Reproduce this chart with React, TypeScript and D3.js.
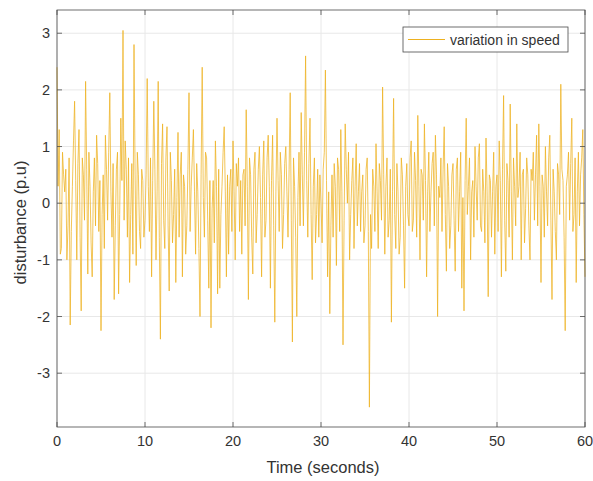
import React from "react";
import * as d3 from "d3";

const sampleStep = 0.125;
const disturbance: number[] = [
  2.4, 0.3, 1.3, -0.9, -0.8, 0.9, 0.5, 0.2, 0.6, -1.0, -0.4, 0.8, -2.15, -0.5, 0.3, 1.1, 1.8, 0.4, -1.0, 0.7,
  1.3, -0.6, -1.9, 0.8, 0.5, -0.3, 2.15, 0.6, -1.25, 0.9, 0.3, -0.7, -1.3, 0.2, 0.8, -0.4, 1.2, 0.7, -0.5, 0.4,
  -2.25, -0.2, 0.5, -0.8, 1.2, 0.6, -0.3, 0.9, 1.95, 0.2, -0.6, 0.7, -1.7, -0.4, 0.6, 0.9, -1.6, -0.2, 1.5, 0.4,
  3.05, -0.3, 1.1, 0.6, -0.6, 0.8, -1.4, -0.2, 0.7, -0.9, 2.8, 0.5, -1.1, 0.9, 0.5, -0.5, -0.8, 0.6, 0.4, -0.6,
  -0.3, 0.5, 2.2, 0.3, -0.5, 0.8, -1.3, 0.4, 1.8, 0.6, -1.0, 0.2, 2.15, -0.6, -2.4, 0.7, 1.4, -0.3, -0.8, 0.8,
  1.35, -0.4, -1.55, 0.9, 0.4, -0.7, -0.2, 0.6, -1.4, 0.1, 1.25, -0.6, 0.5, 0.9, -1.3, 0.5, 0.3, -0.9, -0.4, 0.6,
  1.95, -0.5, 0.3, 0.8, 1.3, 0.2, -0.9, 0.7, 0.2, -0.8, -2.0, 0.5, 2.4, 0.1, -0.6, 0.9, 0.8, -0.3, -1.5, 0.4,
  -2.2, -0.1, 0.4, -0.7, 1.1, 0.3, -1.6, 0.6, -1.5, -0.2, 0.3, 0.9, 1.35, 0.2, -1.3, 0.5, -0.9, 0.3, 0.6, -0.5,
  1.1, 0.2, -1.0, 0.7, 0.3, 0.8, -0.5, 0.4, -0.9, 0.5, 0.6, -0.4, 1.65, 0.3, -1.7, 0.8, 0.5, -0.6, -1.25, 0.6,
  0.9, -0.7, -0.2, 0.6, 1.0, 0.1, -1.3, 0.5, 1.1, -0.6, -0.3, 0.8, 1.2, 0.3, -1.5, 0.4, 1.2, -0.4, -2.1, 0.2,
  1.5, 0.4, -0.5, 0.9, 0.5, -0.8, -0.2, 0.7, 1.0, 0.2, -0.6, 0.6, 1.95, -0.3, -2.45, 0.8, 0.3, -0.6, -2.0, 0.1,
  0.9, -0.4, 1.6, 0.5, -0.4, 0.9, 2.6, 0.4, -0.6, 0.7, 1.5, -0.2, -1.35, 0.3, 0.8, -0.7, -0.2, 0.6, -0.6, 0.5,
  0.0, -0.7, 0.6, 0.9, 2.35, 0.4, -1.3, 0.2, -1.95, -0.4, 0.5, -0.6, 0.7, 0.3, -1.1, 0.8, 0.6, -0.5, 1.3, 0.2,
  -2.5, -0.3, 1.4, 0.6, 0.0, 0.9, -1.0, -0.2, 0.4, 0.8, -0.8, 0.3, 1.05, -0.4, 0.2, 0.7, -0.5, 0.2, 0.5, -0.7,
  -0.4, 0.6, 0.8, -0.5, -3.6, -0.2, -0.8, 0.6, 0.3, -0.5, 1.05, 0.2, -0.8, 0.7, 0.4, -0.3, 2.05, 0.5, -0.9, 0.3,
  0.8, -0.6, -0.3, 0.6, -2.1, 0.2, 1.85, -0.2, -0.8, 0.7, 0.2, -0.9, -0.6, 0.8, 0.5, -0.4, -1.5, 0.3, 0.7, -0.2,
  -0.4, 0.8, 1.1, -0.5, -0.3, 0.9, 0.4, -0.6, 1.55, 0.3, -1.0, 0.6, 0.5, -0.3, 1.4, 0.4, -1.3, 0.2, 0.9, -0.5,
  0.2, 0.7, 0.9, -0.4, 1.2, 0.5, -2.0, 0.3, 0.1, 0.8, -0.5, 0.6, 1.35, -0.2, -1.2, 0.7, 0.3, -0.8, -0.4, 0.5,
  0.7, -0.3, -1.2, 0.6, 0.8, -0.5, 0.2, 0.9, -1.5, 0.1, -1.9, 0.4, 1.5, -0.2, 0.3, 0.8, -1.0, 0.2, 0.4, -0.6,
  1.0, 0.3, -0.3, 0.8, 1.05, -0.4, -0.5, 0.6, 0.2, -0.7, 1.15, 0.2, -1.65, 0.5, 0.4, -0.6, 0.2, 0.9, -0.9, 0.3,
  0.5, -0.5, 1.1, 0.4, -1.3, 0.6, 1.9, -0.3, -1.2, 0.7, 0.4, -0.6, 1.75, 0.2, -1.0, 0.8, 0.3, -0.4, 1.4, 0.1,
  0.3, 0.9, -1.0, 0.5, 0.6, -0.7, -0.1, 0.8, 0.5, -0.4, -1.0, 0.6, 0.4, 0.9, -0.3, 0.5, 1.2, -0.4, 1.4, 0.3,
  -1.4, 0.5, 0.3, -0.6, 1.0, 0.2, -0.4, 0.8, 1.2, -0.3, -1.7, 0.6, 0.2, -0.5, -1.0, 0.7, 0.5, -0.2, 2.1, 0.6,
  0.4, -0.6, -2.25, 0.3, 0.5, 0.9, -0.3, 0.7, 1.5, -0.5, -0.2, 0.8, -1.4, 0.2, 0.9, -0.4, 0.5, 0.8, 1.3, -0.2,
  -1.3,
];
const xTicks = [0, 10, 20, 30, 40, 50, 60];
const yTicks = [-3, -2, -1, 0, 1, 2, 3];
const seriesName = "variation in speed";
const xLabel = "Time (seconds)";
const yLabel = "disturbance (p.u)";

const W = 593;
const H = 481;
const left = 57;
const right = 585;
const top = 10;
const bottom = 427;

export default function App() {
  const x = d3.scaleLinear().domain([0, 60]).range([left, right]);
  const y = d3.scaleLinear().domain([-3.95, 3.41]).range([bottom, top]);
  const pts: [number, number][] = disturbance.map((v, i) => [i * sampleStep, v]);
  const line = d3
    .line<[number, number]>()
    .x((d) => x(d[0]))
    .y((d) => y(d[1]));
  const axisColor = "#4a4a4a";
  const font = "'Liberation Sans', Arial, sans-serif";
  return (
    <svg
      width={W}
      height={H}
      style={{ position: "absolute", left: 0, top: 0, background: "#fff" }}
      fontFamily={font}
    >
      <rect x={0} y={0} width={W} height={H} fill="#fff" />
      {xTicks.map((t) => (
        <line key={"gx" + t} x1={x(t)} x2={x(t)} y1={top} y2={bottom} stroke="#e8e8e8" strokeWidth={1} />
      ))}
      {yTicks.map((t) => (
        <line key={"gy" + t} x1={left} x2={right} y1={y(t)} y2={y(t)} stroke="#e8e8e8" strokeWidth={1} />
      ))}
      <path d={line(pts) || ""} fill="none" stroke="#EDB120" strokeWidth={1} strokeOpacity={0.75} />
      <rect x={left} y={top} width={right - left} height={bottom - top} fill="none" stroke={axisColor} strokeWidth={0.8} />
      {xTicks.map((t) => (
        <g key={"tx" + t}>
          <line x1={x(t)} x2={x(t)} y1={bottom} y2={bottom - 5} stroke={axisColor} strokeWidth={0.8} />
          <line x1={x(t)} x2={x(t)} y1={top} y2={top + 5} stroke={axisColor} strokeWidth={0.8} />
          <text x={x(t)} y={bottom + 19} textAnchor="middle" fontSize={14.5} fill="#333">
            {t}
          </text>
        </g>
      ))}
      {yTicks.map((t) => (
        <g key={"ty" + t}>
          <line x1={left} x2={left + 5} y1={y(t)} y2={y(t)} stroke={axisColor} strokeWidth={0.8} />
          <line x1={right} x2={right - 5} y1={y(t)} y2={y(t)} stroke={axisColor} strokeWidth={0.8} />
          <text x={left - 7} y={y(t) + 5} textAnchor="end" fontSize={14.5} fill="#333">
            {t}
          </text>
        </g>
      ))}
      <text x={(left + right) / 2 + 2} y={473} textAnchor="middle" fontSize={16.5} fill="#333">
        {xLabel}
      </text>
      <text
        transform={`translate(26, ${(top + bottom) / 2 + 4}) rotate(-90)`}
        textAnchor="middle"
        fontSize={16.5}
        fill="#333"
      >
        {yLabel}
      </text>
      <rect x={403} y={27} width={165} height={25} fill="#fff" stroke={axisColor} strokeWidth={0.8} />
      <line x1={408} x2={445} y1={39.5} y2={39.5} stroke="#EDB120" strokeWidth={1} />
      <text x={450} y={44.5} fontSize={14} fill="#333">
        {seriesName}
      </text>
    </svg>
  );
}
